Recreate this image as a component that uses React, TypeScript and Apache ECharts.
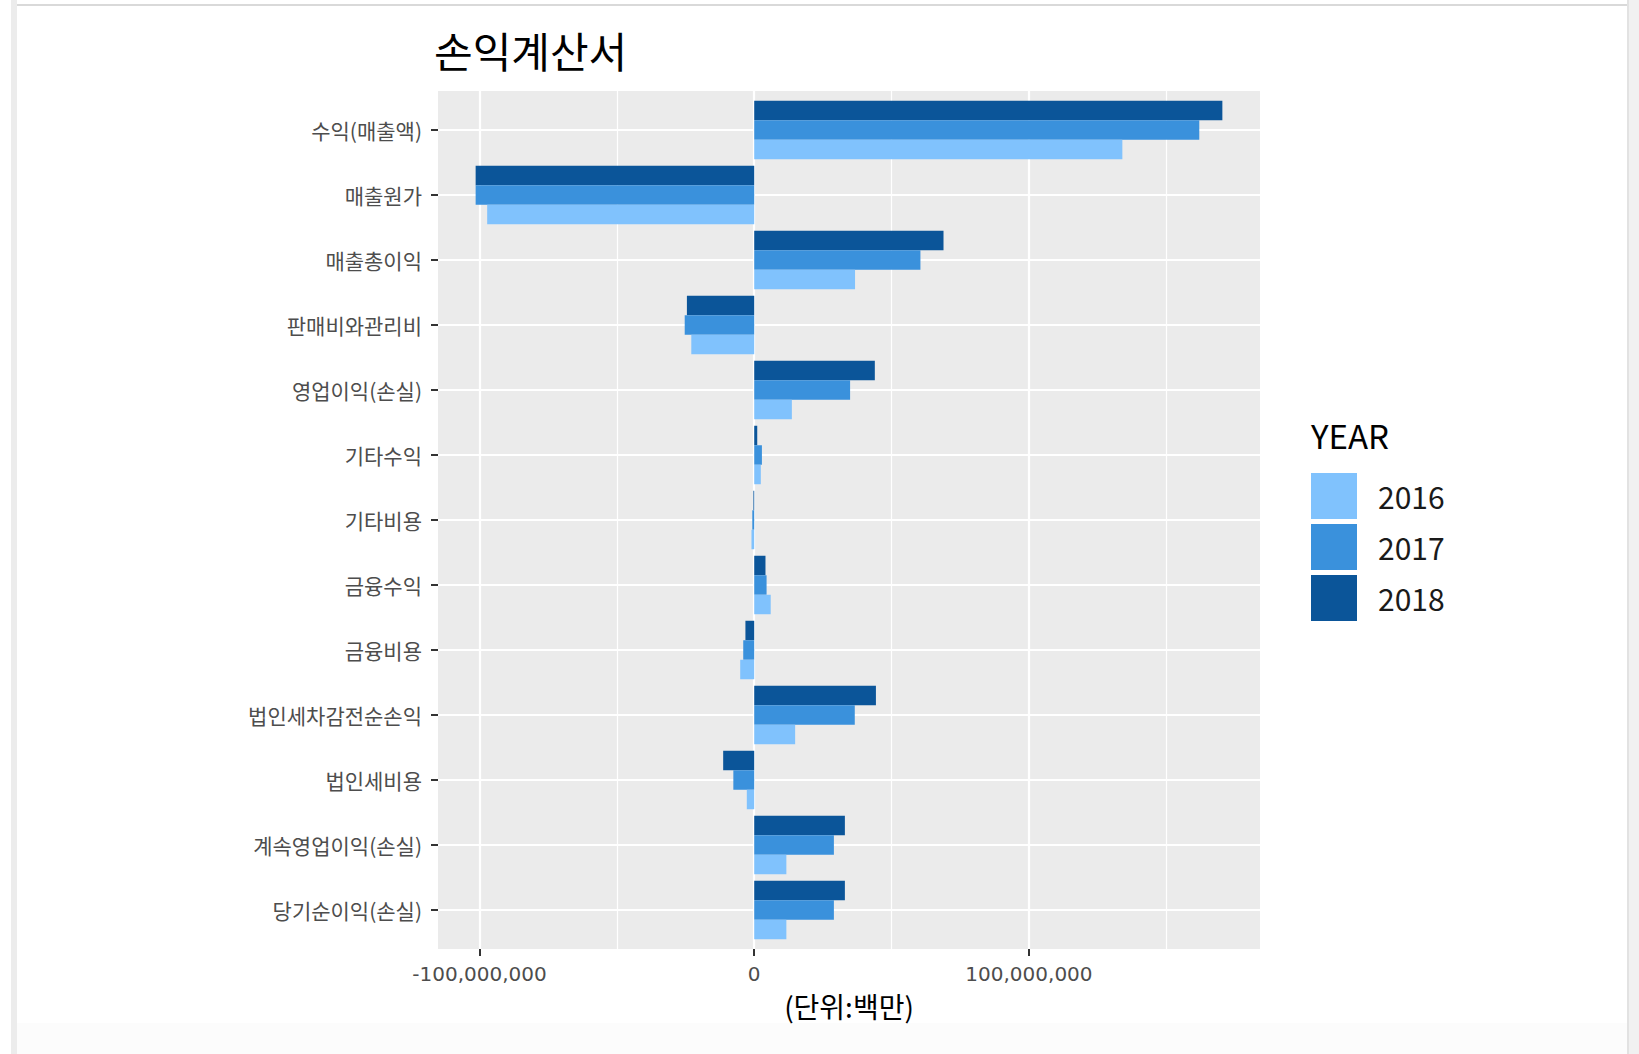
import React, { useEffect, useRef } from "react";
import * as echarts from "echarts";

const categories = [
  "수익(매출액)",
  "매출원가",
  "매출총이익",
  "판매비와관리비",
  "영업이익(손실)",
  "기타수익",
  "기타비용",
  "금융수익",
  "금융비용",
  "법인세차감전순손익",
  "법인세비용",
  "계속영업이익(손실)",
  "당기순이익(손실)",
];

const values2016 = [
  134000000, -97200000, 36700000, -22900000, 13700000, 2400000, -1000000,
  6000000, -5100000, 14900000, -2700000, 11700000, 11700000,
];
const values2017 = [
  162000000, -101400000, 60500000, -25300000, 34900000, 2800000, -700000,
  4500000, -4000000, 36600000, -7600000, 29000000, 29000000,
];
const values2018 = [
  170400000, -101400000, 68900000, -24500000, 43900000, 1100000, -300000,
  4100000, -3200000, 44300000, -11300000, 33000000, 33000000,
];

const years = ["2016", "2017", "2018"];
const majorBreaks = [-100000000, 0, 100000000];
const minorBreaks = [-50000000, 50000000, 150000000];
const X_MIN = -115100000;
const X_MAX = 184100000;

const COLORS: Record<string, string> = {
  "2016": "#80C2FD",
  "2017": "#3A91DC",
  "2018": "#0B5599",
};

const FONT = "'Noto Sans CJK KR', 'Noto Sans', sans-serif";
const NUM_FONT = "'DejaVu Sans', 'Noto Sans', sans-serif";

export default function App() {
  const ref = useRef<HTMLDivElement>(null);

  useEffect(() => {
    if (!ref.current) return;
    const chart = echarts.init(ref.current, undefined, { renderer: "svg" });

    const seriesData: Record<string, number[]> = {
      "2016": values2016,
      "2017": values2017,
      "2018": values2018,
    };

    const barSeries = ["2018", "2017", "2016"].map((y) => ({
      name: y,
      type: "bar",
      xAxisIndex: 1,
      yAxisIndex: 1,
      data: seriesData[y],
      barGap: "0%",
      barCategoryGap: "10%",
      itemStyle: { color: COLORS[y] },
      z: 3,
      silent: true,
    }));

    const option: any = {
      animation: false,
      textStyle: { fontFamily: FONT },
      title: {
        text: "손익계산서",
        left: 434,
        top: 28,
        padding: 0,
        textStyle: {
          fontFamily: FONT,
          fontSize: 42,
          fontWeight: "normal",
          color: "#000000",
        },
      },
      legend: {
        orient: "vertical",
        left: 1311,
        top: 473,
        padding: 0,
        itemWidth: 46,
        itemHeight: 46,
        itemGap: 5,
        icon: "rect",
        selectedMode: false,
        data: years,
        textStyle: {
          fontFamily: FONT,
          fontSize: 30,
          color: "#1A1A1A",
          padding: [0, 0, 0, 16],
        },
      },
      grid: [
        {
          left: 438,
          top: 91,
          width: 822,
          height: 858,
          show: true,
          backgroundColor: "#EBEBEB",
          borderWidth: 0,
        },
        {
          left: 438,
          top: 97.5,
          width: 822,
          height: 845,
          show: false,
        },
      ],
      xAxis: [
        {
          gridIndex: 0,
          type: "value",
          position: "bottom",
          min: X_MIN,
          max: X_MAX,
          axisLine: { show: true, onZero: false, lineStyle: { color: "rgba(0,0,0,0)", width: 0 } },
          splitLine: { show: false },
          axisTick: {
            show: true,
            customValues: majorBreaks,
            length: 7,
            lineStyle: { color: "#333333", width: 2 },
          },
          axisLabel: {
            customValues: majorBreaks,
            fontFamily: NUM_FONT,
            fontSize: 20,
            color: "#4D4D4D",
            margin: 15,
            formatter: (v: number) => v.toLocaleString("en-US"),
          },
          name: "(단위:백만)",
          nameLocation: "middle",
          nameGap: 43,
          nameTextStyle: { fontFamily: FONT, fontSize: 28, color: "#000000" },
        },
        {
          gridIndex: 1,
          type: "value",
          min: X_MIN,
          max: X_MAX,
          show: false,
        },
      ],
      yAxis: [
        { gridIndex: 0, type: "value", min: 0, max: 1, show: false },
        {
          gridIndex: 1,
          type: "category",
          position: "left",
          inverse: true,
          data: categories,
          axisLine: { show: true, onZero: false, lineStyle: { color: "rgba(0,0,0,0)", width: 0 } },
          splitLine: { show: false },
          axisTick: {
            show: true,
            alignWithLabel: true,
            length: 7,
            lineStyle: { color: "#333333", width: 2 },
          },
          axisLabel: {
            fontFamily: FONT,
            fontSize: 21,
            color: "#4D4D4D",
            margin: 16,
          },
        },
      ],
      graphic: [
        { type: "rect", shape: { x: 11, y: 0, width: 6, height: 1054 }, style: { fill: "#ECECEC" }, silent: true },
        { type: "rect", shape: { x: 17, y: 4, width: 1610, height: 2 }, style: { fill: "#D9D9D9" }, silent: true },
        { type: "rect", shape: { x: 17, y: 1023, width: 1610, height: 31 }, style: { fill: "#FCFCFC" }, silent: true },
        { type: "rect", shape: { x: 1627, y: 0, width: 2, height: 1054 }, style: { fill: "#E2E2E2" }, silent: true },
        { type: "rect", shape: { x: 1629, y: 0, width: 10, height: 1054 }, style: { fill: "#F1F1F1" }, silent: true },
        {
          type: "text",
          left: 1311,
          top: 418,
          style: {
            text: "YEAR",
            fontFamily: FONT,
            fontSize: 33,
            fill: "#000000",
          },
        },
      ],
      series: [
        {
          type: "line",
          xAxisIndex: 0,
          yAxisIndex: 0,
          data: [],
          silent: true,
          markLine: {
            silent: true,
            symbol: ["none", "none"],
            label: { show: false },
            z: 1,
            lineStyle: { color: "#FFFFFF", type: "solid" },
            data: [
              ...majorBreaks.map((v) => ({ xAxis: v, lineStyle: { width: 2.2, color: "#FFFFFF", type: "solid" } })),
              ...minorBreaks.map((v) => ({ xAxis: v, lineStyle: { width: 1.2, color: "#FFFFFF", type: "solid" } })),
            ],
          },
        },
        {
          type: "line",
          xAxisIndex: 1,
          yAxisIndex: 1,
          data: [],
          silent: true,
          markLine: {
            silent: true,
            symbol: ["none", "none"],
            label: { show: false },
            z: 1,
            lineStyle: { color: "#FFFFFF", type: "solid", width: 2.2 },
            data: categories.map((c) => ({ yAxis: c })),
          },
        },
        ...barSeries,
      ],
    };

    chart.setOption(option);
    return () => chart.dispose();
  }, []);

  return (
    <div
      ref={ref}
      style={{ position: "absolute", left: 0, top: 0, width: 1639, height: 1054, background: "#FFFFFF" }}
    />
  );
}
